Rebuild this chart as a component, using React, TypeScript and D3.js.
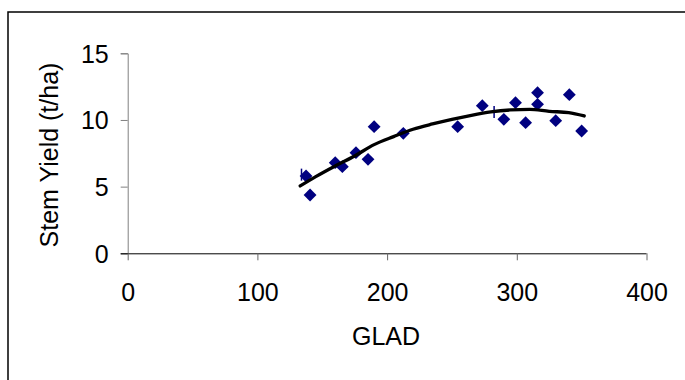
import React, { useEffect, useRef } from 'react';
import * as d3 from 'd3';

// observed stem yield vs GLAD
const gladValues = [137.5, 140.6, 160, 165.5, 176, 185.3, 190, 212.5, 254.4, 273.4, 290, 299, 306.8, 316, 316, 330, 340.5, 350];
const yieldValues = [5.8, 4.37, 6.8, 6.5, 7.55, 7.05, 9.5, 9.0, 9.5, 11.07, 10.05, 11.3, 9.8, 12.05, 11.17, 9.95, 11.9, 9.17];

// the two small bar markers
const barGlad = [134, 282.5];
const barYield = [5.9, 10.6];

// fitted trend line
const trendGlad = [133, 145, 160, 175, 190, 205, 220, 235, 250, 265, 280, 295, 310, 325, 340, 352];
const trendYield = [5.05, 5.75, 6.55, 7.3, 8.15, 8.75, 9.3, 9.7, 10.05, 10.35, 10.6, 10.75, 10.8, 10.65, 10.55, 10.3];

const xTicks = [0, 100, 200, 300, 400];
const yTicks = [0, 5, 10, 15];

const WIDTH = 685;
const HEIGHT = 380;
const FONT = 'Liberation Sans, Arial, sans-serif';

const App: React.FC = () => {
  const svgRef = useRef<SVGSVGElement>(null);

  useEffect(() => {
    if (!svgRef.current) return;
    const svg = d3.select(svgRef.current);
    svg.selectAll('*').remove();

    const x = d3.scaleLinear().domain([0, 400]).range([127.7, 646.5]);
    const y = d3.scaleLinear().domain([0, 15]).range([253.3, 53.3]);

    // outer chart border (runs off the right and bottom)
    svg.append('rect')
      .attr('x', 8).attr('y', 12)
      .attr('width', 700).attr('height', 400)
      .attr('fill', 'none')
      .attr('stroke', '#000')
      .attr('stroke-width', 1.5);

    // y axis
    const yAxis = d3.axisLeft(y).tickValues(yTicks).tickSize(7).tickPadding(12);
    const gy = svg.append('g').attr('transform', `translate(${x(0)},0)`).call(yAxis);
    gy.select('.domain').attr('stroke', '#808080');
    gy.selectAll('.tick line').attr('stroke', '#808080');
    gy.selectAll('.tick text')
      .attr('fill', '#000')
      .attr('font-family', FONT)
      .attr('font-size', 25)
      .attr('dy', '0.36em');

    // x axis
    const xAxis = d3.axisBottom(x).tickValues(xTicks).tickSize(7).tickPadding(12);
    const gx = svg.append('g').attr('transform', `translate(0,${y(0)})`).call(xAxis);
    gx.select('.domain').attr('stroke', '#000').attr('d', `M${x(0) - 7},0.5H${x(400)}`);
    gx.selectAll('.tick line').attr('stroke', '#666');
    gx.selectAll('.tick text')
      .attr('fill', '#000')
      .attr('font-family', FONT)
      .attr('font-size', 25)
      .attr('y', 47.5)
      .attr('dy', 0);

    // titles
    svg.append('text')
      .attr('x', 386).attr('y', 345)
      .attr('text-anchor', 'middle')
      .attr('font-family', FONT)
      .attr('font-size', 25)
      .text('GLAD');

    svg.append('text')
      .attr('transform', 'translate(58,155) rotate(-90)')
      .attr('text-anchor', 'middle')
      .attr('font-family', FONT)
      .attr('font-size', 25)
      .text('Stem Yield (t/ha)');

    // bar markers
    svg.append('g').selectAll('line')
      .data(barGlad.map((g, i) => [g, barYield[i]]))
      .join('line')
      .attr('x1', d => x(d[0])).attr('x2', d => x(d[0]))
      .attr('y1', d => y(d[1]) - 6).attr('y2', d => y(d[1]) + 6)
      .attr('stroke', '#000080')
      .attr('stroke-width', 1.5);

    // diamonds
    const diamond = d3.symbol().type(d3.symbolDiamond2).size(105);
    svg.append('g').selectAll('path')
      .data(gladValues.map((g, i) => [g, yieldValues[i]]))
      .join('path')
      .attr('d', diamond)
      .attr('transform', d => `translate(${x(d[0])},${y(d[1])})`)
      .attr('fill', '#000080');

    // trend line
    const line = d3.line<number>()
      .x((_, i) => x(trendGlad[i]))
      .y(d => y(d))
      .curve(d3.curveMonotoneX);
    svg.append('path')
      .attr('d', line(trendYield))
      .attr('fill', 'none')
      .attr('stroke', '#000')
      .attr('stroke-width', 3.3)
      .attr('stroke-linecap', 'round');
  }, []);

  return (
    <svg
      ref={svgRef}
      width={WIDTH}
      height={HEIGHT}
      style={{ position: 'absolute', left: 0, top: 0, background: '#fff' }}
    />
  );
};

export default App;
